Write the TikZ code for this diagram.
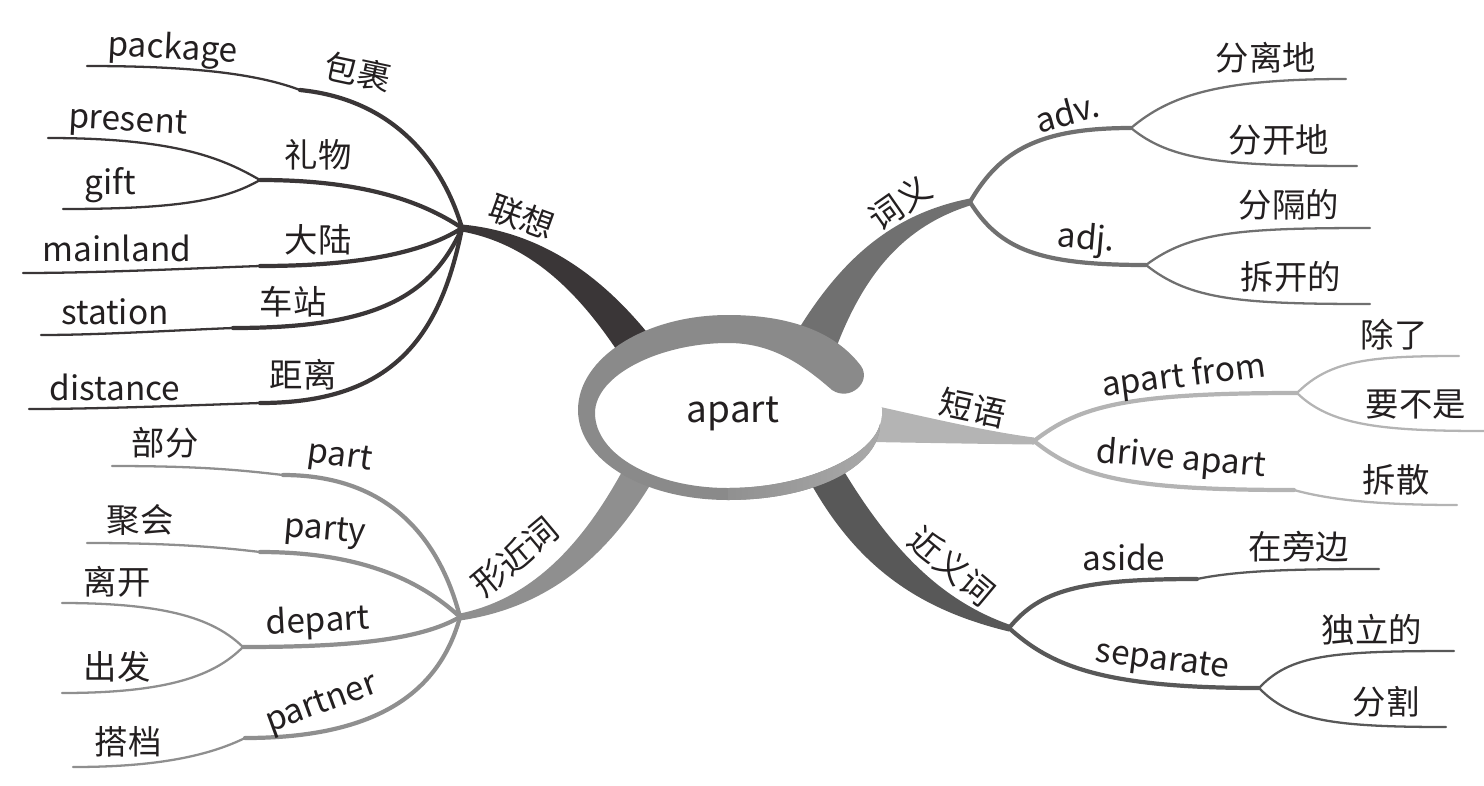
\documentclass[tikz,border=0pt]{standalone}
\usepackage{fontspec}
\setmainfont{Noto Sans CJK SC}
\definecolor{inkc}{HTML}{231F20}
\definecolor{lxc}{HTML}{3A3637}
\definecolor{cyc}{HTML}{707070}
\definecolor{dyc}{HTML}{B4B4B4}
\definecolor{jyc}{HTML}{585858}
\definecolor{xjc}{HTML}{8F8F8F}
\definecolor{ringc}{HTML}{8A8A8A}
\definecolor{ringl}{HTML}{ABABAB}

\begin{document}
\begin{tikzpicture}[x=0.02cm, y=-0.02cm,
  lab/.style={font=\fontsize{19}{22}\selectfont, text=inkc, inner sep=0pt},
  twig/.style={line width=2.4pt, line cap=round},
  leaf/.style={line width=1.3pt, line cap=round}
]
\useasboundingbox (0,0) rectangle (1484,785);

\coordinate (lx) at (462,228);
\coordinate (xj) at (460,617);
\coordinate (cy) at (970,202);
\coordinate (dy) at (1034,441);
\coordinate (jy) at (1009,628);

\fill[lxc] (618,352) .. controls (578,292) and (530,244) .. ([yshift=-2pt]lx)
  -- ([yshift=2pt]lx) .. controls (540,232) and (600,274) .. (650,336) -- cycle;
\fill[xjc] (624,468) .. controls (585,540) and (535,598) .. ([yshift=2pt]xj)
  -- ([yshift=-2pt]xj) .. controls (545,608) and (605,560) .. (652,482) -- cycle;
\fill[cyc] (798,330) .. controls (840,262) and (890,214) .. ([yshift=2pt]cy)
  -- ([yshift=-2pt]cy) .. controls (905,226) and (865,272) .. (836,348) -- cycle;
\fill[dyc] (876,406) .. controls (930,418) and (990,432) .. ([yshift=2pt]dy)
  -- ([yshift=-2pt]dy) .. controls (990,444) and (930,443) .. (872,442) -- cycle;
\fill[jyc] (810,482) .. controls (858,568) and (920,610) .. ([yshift=-2pt]jy)
  -- ([yshift=2pt]jy) .. controls (940,600) and (890,548) .. (842,468) -- cycle;

\fill[white] (736,412) ellipse [x radius=2.92cm, y radius=1.52cm];
\fill[ringc] (880,424) .. controls (880,466) and (815,500) .. (728,500)
  .. controls (645,500) and (578,461) .. (578,410)
  .. controls (578,358) and (645,315) .. (728,315)
  .. controls (800,315) and (840,338) .. (861,366)
  .. controls (872,382) and (850,402) .. (832,390)
  .. controls (800,362) and (770,343) .. (728,343)
  .. controls (660,343) and (595,375) .. (595,413)
  .. controls (595,455) and (655,488) .. (728,488)
  .. controls (805,488) and (872,456) .. (880,424) -- cycle;
\begin{scope}
  \clip (880,424) .. controls (880,466) and (815,500) .. (728,500)
    -- (728,488) .. controls (805,488) and (872,456) .. (880,424) -- cycle;
  \shade[left color=ringc, right color=ringl] (690,410) rectangle (890,510);
\end{scope}
\node[lab, font=\fontsize{21}{24}\selectfont] (apart) at (733,414) {apart};

\coordinate (bg) at (300,90);
\coordinate (bgE) at (87,66);
\coordinate (lw) at (260,180);
\coordinate (lwA) at (48,138);
\coordinate (lwB) at (63,209);
\coordinate (dl) at (260,266);
\coordinate (dlE) at (23,273);
\coordinate (cz) at (233,328);
\coordinate (czE) at (41,335);
\coordinate (jl) at (260,403);
\coordinate (jlE) at (29,409);
\draw[lxc, twig] (lx) .. controls (445,170) and (400,100) .. (bg);
\draw[lxc, leaf] (bg) .. controls (260,75) and (200,66) .. (bgE);
\draw[lxc, twig] (lx) .. controls (420,200) and (360,180) .. (lw);
\draw[lxc, leaf] (lw) .. controls (225,160) and (180,138) .. (lwA);
\draw[lxc, leaf] (lw) .. controls (225,200) and (180,209) .. (lwB);
\draw[lxc, twig] (lx) .. controls (420,255) and (350,266) .. (dl);
\draw[lxc, leaf] (dl) .. controls (200,268) and (100,273) .. (dlE);
\draw[lxc, twig] (lx) .. controls (430,300) and (370,328) .. (cz);
\draw[lxc, leaf] (cz) .. controls (180,330) and (100,335) .. (czE);
\draw[lxc, twig] (lx) .. controls (440,340) and (390,403) .. (jl);
\draw[lxc, leaf] (jl) .. controls (200,405) and (100,409) .. (jlE);

\coordinate (pt) at (283,475);
\coordinate (ptE) at (112,466);
\coordinate (py) at (260,552);
\coordinate (pyE) at (87,543);
\coordinate (dp) at (243,647);
\coordinate (dpA) at (62,603);
\coordinate (dpB) at (62,693);
\coordinate (pn) at (245,738);
\coordinate (pnE) at (73,767);
\draw[xjc, twig] (xj) .. controls (440,540) and (390,475) .. (pt);
\draw[xjc, leaf] (pt) .. controls (240,470) and (200,466) .. (ptE);
\draw[xjc, twig] (xj) .. controls (420,580) and (360,552) .. (py);
\draw[xjc, leaf] (py) .. controls (210,546) and (160,543) .. (pyE);
\draw[xjc, twig] (xj) .. controls (420,640) and (350,647) .. (dp);
\draw[xjc, leaf] (dp) .. controls (215,620) and (170,603) .. (dpA);
\draw[xjc, leaf] (dp) .. controls (215,675) and (170,693) .. (dpB);
\draw[xjc, twig] (xj) .. controls (440,690) and (380,738) .. (pn);
\draw[xjc, leaf] (pn) .. controls (210,755) and (160,767) .. (pnE);

\coordinate (av) at (1131,128);
\coordinate (avA) at (1346,79);
\coordinate (avB) at (1357,166);
\coordinate (aj) at (1146,265);
\coordinate (ajA) at (1370,228);
\coordinate (ajB) at (1370,304);
\draw[cyc, twig] (cy) .. controls (1000,150) and (1040,128) .. (av);
\draw[cyc, leaf] (av) .. controls (1170,95) and (1220,79) .. (avA);
\draw[cyc, leaf] (av) .. controls (1170,160) and (1220,166) .. (avB);
\draw[cyc, twig] (cy) .. controls (1000,250) and (1040,265) .. (aj);
\draw[cyc, leaf] (aj) .. controls (1190,232) and (1240,228) .. (ajA);
\draw[cyc, leaf] (aj) .. controls (1190,300) and (1240,304) .. (ajB);

\coordinate (af) at (1297,393);
\coordinate (afA) at (1459,356);
\coordinate (afB) at (1484,431);
\coordinate (da) at (1294,490);
\coordinate (daE) at (1457,505);
\draw[dyc, twig] (dy) .. controls (1080,405) and (1130,393) .. (af);
\draw[dyc, leaf] (af) .. controls (1330,360) and (1370,356) .. (afA);
\draw[dyc, leaf] (af) .. controls (1330,425) and (1380,431) .. (afB);
\draw[dyc, twig] (dy) .. controls (1080,478) and (1130,490) .. (da);
\draw[dyc, leaf] (da) .. controls (1330,500) and (1380,505) .. (daE);

\coordinate (as) at (1197,579);
\coordinate (asE) at (1379,569);
\coordinate (sp) at (1259,688);
\coordinate (spA) at (1454,651);
\coordinate (spB) at (1446,727);
\draw[jyc, twig] (jy) .. controls (1040,590) and (1080,579) .. (as);
\draw[jyc, leaf] (as) .. controls (1240,570) and (1300,569) .. (asE);
\draw[jyc, twig] (jy) .. controls (1050,665) and (1100,688) .. (sp);
\draw[jyc, leaf] (sp) .. controls (1290,655) and (1330,651) .. (spA);
\draw[jyc, leaf] (sp) .. controls (1290,720) and (1330,727) .. (spB);

\node[lab, rotate=-20] (tlx) at (522,217) {联想};
\node[lab, rotate=-3] (tpackage) at (173,50) {package};
\node[lab, rotate=-12] (tbg) at (358,72) {包裹};
\node[lab, rotate=-3] (tpresent) at (128,123) {present};
\node[lab] (tlw) at (318,155) {礼物};
\node[lab] (tgift) at (110,185) {gift};
\node[lab] (tmainland) at (117,248) {mainland};
\node[lab] (tdl) at (318,240) {大陆};
\node[lab] (tstation) at (115,312) {station};
\node[lab] (tcz) at (293,302) {车站};
\node[lab] (tdistance) at (115,387) {distance};
\node[lab] (tjl) at (303,375) {距离};

\node[lab, rotate=40] (txj) at (515,557) {形近词};
\node[lab] (tbf) at (165,443) {部分};
\node[lab, rotate=-8] (tpart) at (340,458) {part};
\node[lab] (tjh) at (140,520) {聚会};
\node[lab, rotate=-5] (tparty) at (325,532) {party};
\node[lab] (tlk) at (117,582) {离开};
\node[lab, rotate=3] (tdepart) at (318,622) {depart};
\node[lab] (tcf) at (117,667) {出发};
\node[lab] (tdd) at (128,742) {搭档};
\node[lab, rotate=20] (tpartner) at (322,705) {partner};

\node[lab, rotate=35] (tcy) at (900,203) {词义};
\node[lab, rotate=15] (tadv) at (1067,112) {adv.};
\node[lab] (tfld) at (1266,58) {分离地};
\node[lab] (tfkd) at (1279,140) {分开地};
\node[lab, rotate=-5] (tadj) at (1086,240) {adj.};
\node[lab] (tfgd) at (1289,205) {分隔的};
\node[lab] (tckd) at (1291,277) {拆开的};

\node[lab, rotate=-12] (tdy) at (973,408) {短语};
\node[lab, rotate=7] (tapartfrom) at (1184,377) {apart from};
\node[lab] (tcl) at (1394,335) {除了};
\node[lab] (tybs) at (1416,405) {要不是};
\node[lab, rotate=-5] (tdrive) at (1181,460) {drive apart};
\node[lab] (tcs) at (1396,480) {拆散};

\node[lab, rotate=-40] (tjy) at (952,566) {近义词};
\node[lab] (taside) at (1124,557) {aside};
\node[lab] (tzpb) at (1299,547) {在旁边};
\node[lab, rotate=-7] (tseparate) at (1162,662) {separate};
\node[lab] (tdld) at (1372,630) {独立的};
\node[lab] (tfg) at (1386,702) {分割};
\end{tikzpicture}
\end{document}
